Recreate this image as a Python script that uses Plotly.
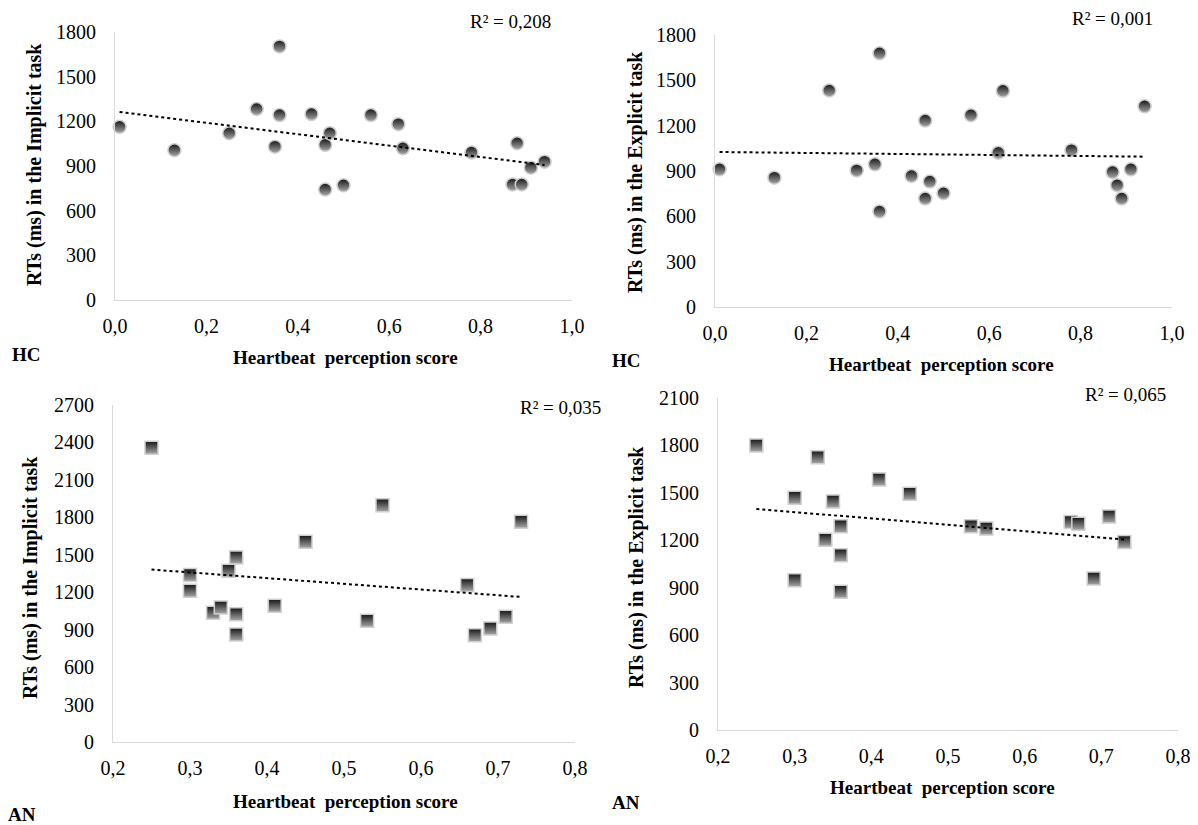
import numpy as np
import plotly.graph_objects as go

# ---------------- data ----------------
hc_score = [0.01, 0.13, 0.25, 0.31, 0.35, 0.36, 0.36, 0.43, 0.46, 0.46, 0.47,
            0.50, 0.56, 0.62, 0.63, 0.78, 0.87, 0.88, 0.89, 0.91, 0.94]
hc_implicit = [1163, 1006, 1120, 1283, 1030, 1703, 1242, 1249, 742, 1042, 1120,
               770, 1242, 1181, 1019, 990, 776, 1053, 776, 889, 929]
hc_explicit = [911, 856, 1433, 904, 944, 1679, 632, 867, 1234, 718, 830,
               753, 1269, 1021, 1431, 1038, 893, 806, 718, 911, 1328]

an_score = [0.25, 0.30, 0.30, 0.33, 0.34, 0.35, 0.36, 0.36, 0.36, 0.41, 0.45,
            0.53, 0.55, 0.66, 0.67, 0.69, 0.71, 0.73]
an_implicit = [2358, 1337, 1211, 1035, 1078, 1372, 1479, 1024, 861, 1091, 1604,
               971, 1896, 1257, 856, 909, 1003, 1765]
an_explicit = [1800, 1469, 947, 1726, 1204, 1446, 1288, 1105, 874, 1585, 1495,
               1288, 1274, 1316, 1305, 958, 1351, 1189]

r2_labels = ["R\u00b2 = 0,208", "R\u00b2 = 0,001", "R\u00b2 = 0,035", "R\u00b2 = 0,065"]
group_labels = ["HC", "HC", "AN", "AN"]
y_titles = ["RTs (ms) in the Implicit task", "RTs (ms) in the Explicit task",
            "RTs (ms) in the Implicit task", "RTs (ms) in the Explicit task"]
x_title = "Heartbeat  perception score"

hc_xticks = [0.0, 0.2, 0.4, 0.6, 0.8, 1.0]
hc_xticklabels = ["0,0", "0,2", "0,4", "0,6", "0,8", "1,0"]
an_xticks = [0.2, 0.3, 0.4, 0.5, 0.6, 0.7, 0.8]
an_xticklabels = ["0,2", "0,3", "0,4", "0,5", "0,6", "0,7", "0,8"]
yticks_1800 = [0, 300, 600, 900, 1200, 1500, 1800]
yticks_2700 = [0, 300, 600, 900, 1200, 1500, 1800, 2100, 2400, 2700]
yticks_2100 = [0, 300, 600, 900, 1200, 1500, 1800, 2100]

# ---------------- layout helpers ----------------
# page body has an 8px margin, so the figure is made 8px smaller and offset
OFF = 8
W, H = 1198 - OFF, 825 - OFF
FONT = "Liberation Serif"


def px_x(p):
    return (p - OFF) / W


def px_y(p):
    return 1 - (p - OFF) / H


panels = [
    dict(x=hc_score, y=hc_implicit, sym="circle", xr=[0, 1.0], yr=[0, 1800],
         xt=hc_xticks, xtl=hc_xticklabels, yt=yticks_1800,
         xd=(115, 572), yd=(300, 32),
         ytitle=(35, 165), xtitle=(345, 357), grp=(26, 355), r2=(510, 21)),
    dict(x=hc_score, y=hc_explicit, sym="circle", xr=[0, 1.0], yr=[0, 1800],
         xt=hc_xticks, xtl=hc_xticklabels, yt=yticks_1800,
         xd=(715, 1172), yd=(307, 35),
         ytitle=(636, 172), xtitle=(941, 364), grp=(626, 360), r2=(1112, 18)),
    dict(x=an_score, y=an_implicit, sym="square", xr=[0.2, 0.8], yr=[0, 2700],
         xt=an_xticks, xtl=an_xticklabels, yt=yticks_2700,
         xd=(113, 575), yd=(742, 405),
         ytitle=(30, 578), xtitle=(345, 801), grp=(22, 814), r2=(560, 407)),
    dict(x=an_score, y=an_explicit, sym="square", xr=[0.2, 0.8], yr=[0, 2100],
         xt=an_xticks, xtl=an_xticklabels, yt=yticks_2100,
         xd=(718, 1178), yd=(730, 398),
         ytitle=(636, 567), xtitle=(942, 787), grp=(626, 802), r2=(1125, 395)),
]

fig = go.Figure()
annotations = []
layout_axes = {}

for i, p in enumerate(panels, start=1):
    xa = "x" if i == 1 else f"x{i}"
    ya = "y" if i == 1 else f"y{i}"
    xkey = "xaxis" if i == 1 else f"xaxis{i}"
    ykey = "yaxis" if i == 1 else f"yaxis{i}"

    fig.add_trace(go.Scatter(
        x=p["x"], y=p["y"], mode="markers", xaxis=xa, yaxis=ya,
        showlegend=False, cliponaxis=False,
        marker=dict(symbol=p["sym"], size=13,
                    color="#151515",
                    gradient=dict(type="vertical", color="#a8a8a8"),
                    line=dict(color="#d0d0d0", width=1.5)),
    ))

    xs = np.array(p["x"], dtype=float)
    ys = np.array(p["y"], dtype=float)
    slope, intercept = np.polyfit(xs, ys, 1)
    tx = np.array([xs.min(), xs.max()])
    fig.add_trace(go.Scatter(
        x=tx, y=slope * tx + intercept, mode="lines", xaxis=xa, yaxis=ya,
        showlegend=False,
        line=dict(color="black", width=2, dash="dot"),
    ))

    layout_axes[xkey] = dict(
        domain=[px_x(p["xd"][0]), px_x(p["xd"][1])], range=p["xr"],
        anchor=ya, showgrid=False, zeroline=False, showline=True,
        linecolor="#d9d9d9", linewidth=1, ticks="", automargin=False,
        tickvals=p["xt"], ticktext=p["xtl"], ticklabelstandoff=8,
        tickfont=dict(family=FONT, size=20, color="black"),
    )
    layout_axes[ykey] = dict(
        domain=[px_y(p["yd"][0]), px_y(p["yd"][1])], range=p["yr"],
        anchor=xa, showgrid=False, zeroline=False, showline=True,
        linecolor="#d9d9d9", linewidth=1, ticks="", automargin=False,
        tickvals=p["yt"], ticktext=[str(v) for v in p["yt"]], ticklabelstandoff=14,
        tickfont=dict(family=FONT, size=20, color="black"),
    )

    annotations.append(dict(
        x=px_x(p["ytitle"][0]), y=px_y(p["ytitle"][1]), xref="paper", yref="paper",
        text=f"<b>{y_titles[i-1]}</b>", textangle=-90, showarrow=False,
        font=dict(family=FONT, size=20, color="black"),
        xanchor="center", yanchor="middle"))
    annotations.append(dict(
        x=px_x(p["xtitle"][0]), y=px_y(p["xtitle"][1]), xref="paper", yref="paper",
        text=f"<b>{x_title}</b>", showarrow=False,
        font=dict(family=FONT, size=19, color="black"),
        xanchor="center", yanchor="middle"))
    annotations.append(dict(
        x=px_x(p["grp"][0]), y=px_y(p["grp"][1]), xref="paper", yref="paper",
        text=f"<b>{group_labels[i-1]}</b>", showarrow=False,
        font=dict(family=FONT, size=19, color="black"),
        xanchor="center", yanchor="middle"))
    annotations.append(dict(
        x=px_x(p["r2"][0]), y=px_y(p["r2"][1]), xref="paper", yref="paper",
        text=r2_labels[i-1], showarrow=False,
        font=dict(family=FONT, size=19, color="black"),
        xanchor="center", yanchor="middle"))

fig.update_layout(
    width=W, height=H,
    margin=dict(l=0, r=0, t=0, b=0, autoexpand=False),
    paper_bgcolor="white", plot_bgcolor="white",
    annotations=annotations,
    **layout_axes,
)

fig.write_html("out.html")
